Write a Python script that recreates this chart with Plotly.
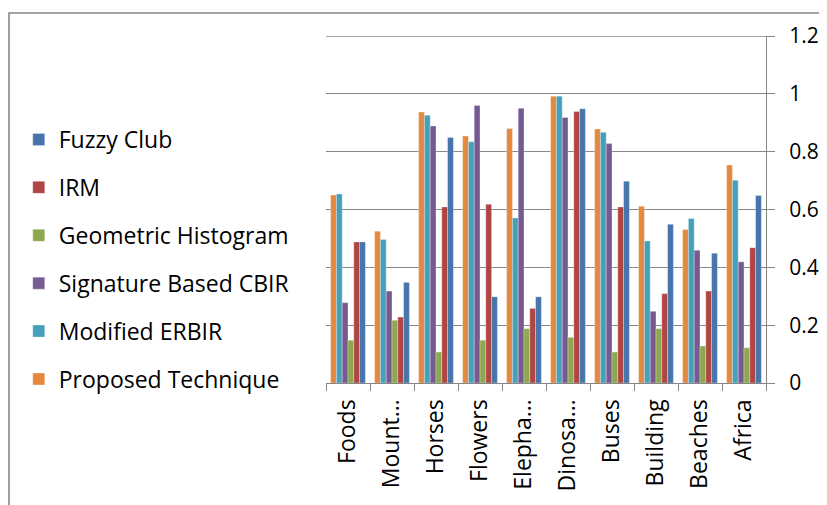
import plotly.graph_objects as go

categories = ["Foods", "Mount…", "Horses", "Flowers", "Elepha…", "Dinosa…",
              "Buses", "Building", "Beaches", "Africa"]

proposed = [0.65, 0.525, 0.937, 0.854, 0.88, 0.992, 0.878, 0.611, 0.531, 0.754]
erbir = [0.654, 0.496, 0.926, 0.834, 0.571, 0.992, 0.867, 0.491, 0.569, 0.701]
signature = [0.278, 0.318, 0.889, 0.96, 0.95, 0.918, 0.828, 0.248, 0.459, 0.419]
geometric = [0.148, 0.217, 0.107, 0.148, 0.188, 0.158, 0.107, 0.188, 0.128, 0.122]
irm = [0.488, 0.228, 0.609, 0.618, 0.258, 0.939, 0.609, 0.309, 0.318, 0.468]
fuzzy = [0.488, 0.348, 0.849, 0.298, 0.298, 0.948, 0.698, 0.549, 0.449, 0.648]

y_ticks = [0, 0.2, 0.4, 0.6, 0.8, 1, 1.2]
y_labels = ["0", "0.2", "0.4", "0.6", "0.8", "1", "1.2"]

series = [
    ("Proposed Technique", proposed, "#e4893f"),
    ("Modified ERBIR", erbir, "#46a0b9"),
    ("Signature Based CBIR", signature, "#765b93"),
    ("Geometric Histogram", geometric, "#8fa84f"),
    ("IRM", irm, "#b04644"),
    ("Fuzzy Club", fuzzy, "#4674ab"),
]

fig = go.Figure()
for i, (name, vals, col) in enumerate(series):
    fig.add_trace(go.Bar(
        name=name, x=categories, y=vals, legendgroup=name,
        legendrank=1000 - i,
        marker=dict(color=col, line=dict(color="rgba(255,255,255,0.5)", width=0.6)),
    ))

# page has an 8px body margin: figure is drawn offset by (8, 8)
W, H = 819, 497
FONT = "Open Sans"
FS = 23
GRID = "#868686"
fig.update_layout(
    width=W, height=H,
    margin=dict(l=318, r=61, t=28, b=122, autoexpand=False),
    paper_bgcolor="white", plot_bgcolor="white",
    barmode="group", bargap=0.21, bargroupgap=0,
    font=dict(family=FONT, size=FS, color="black"),
    showlegend=True,
    legend=dict(
        traceorder="grouped", tracegroupgap=15, maxheight=1000,
        xref="container", yref="container",
        x=10.75 / W, y=1 - 110 / H, xanchor="left", yanchor="top",
        font=dict(family=FONT, size=FS, color="black"),
        bgcolor="rgba(0,0,0,0)",
    ),
    xaxis=dict(
        type="category", tickangle=-90, tickson="boundaries", automargin=False,
        ticks="outside", ticklen=7, tickcolor=GRID, tickwidth=1.3,
        showline=True, linecolor=GRID, linewidth=1.3,
        showgrid=False, tickfont=dict(family=FONT, size=FS, color="black"),
        ticklabelstandoff=6,
    ),
    yaxis=dict(
        side="right", range=[0, 1.2], tickvals=y_ticks, ticktext=y_labels,
        automargin=False,
        ticks="outside", ticklen=8, tickcolor=GRID, tickwidth=1.3,
        showline=True, linecolor=GRID, linewidth=1.3,
        showgrid=True, gridcolor=GRID, gridwidth=1.3,
        zeroline=False, tickfont=dict(family=FONT, size=21, color="black"),
        ticklabelstandoff=10,
    ),
    shapes=[
        dict(
            type="rect", xref="paper", yref="paper",
            x0=(1 - 318) / 440, x1=2.0, y0=-1.0, y1=(375 - 5) / 347,
            line=dict(color="#878787", width=1.6), fillcolor="rgba(0,0,0,0)",
            layer="below",
        ),
        # top gridline (plotly omits the gridline on the plot edge)
        dict(
            type="line", xref="paper", yref="y",
            x0=0, x1=1, y0=y_ticks[-1], y1=y_ticks[-1],
            line=dict(color=GRID, width=1.3), layer="below",
        ),
    ],
)

fig.write_html("out.html")
